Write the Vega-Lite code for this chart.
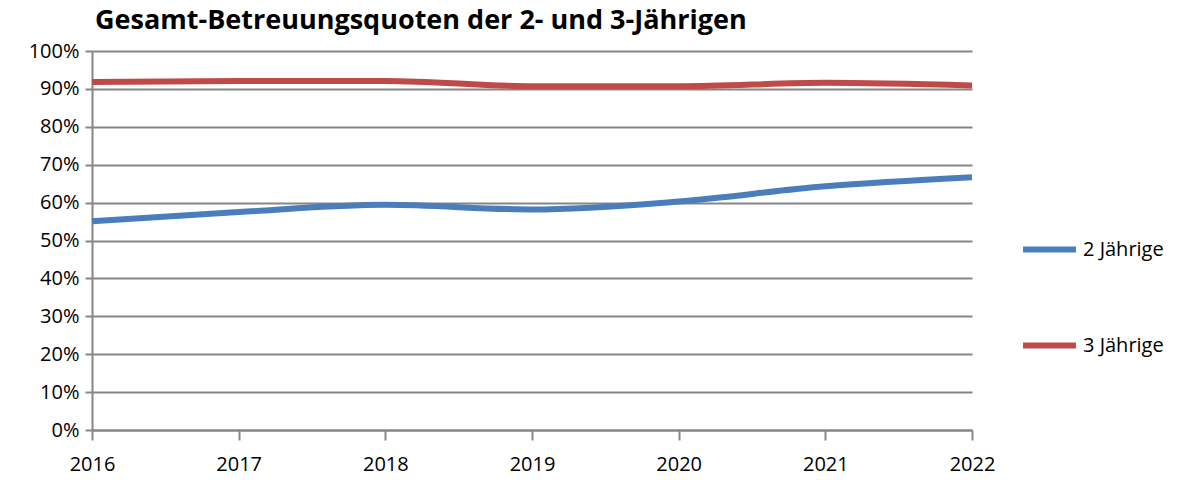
{
  "$schema": "https://vega.github.io/schema/vega-lite/v6.json",
  "autosize": "none",
  "width": 880,
  "height": 379,
  "padding": {"left": 92, "top": 51, "right": 219, "bottom": 50},
  "background": "white",
  "title": {
    "text": "Gesamt-Betreuungsquoten der 2- und 3-Jährigen",
    "anchor": "start",
    "frame": "group",
    "font": "Open Sans, sans-serif",
    "fontSize": 27,
    "fontWeight": "bold",
    "color": "#000000",
    "dx": 3,
    "offset": 6
  },
  "data": {
    "values": [
      {"year": 2016, "group": "2 Jährige", "value": 0.551},
      {"year": 2017, "group": "2 Jährige", "value": 0.575},
      {"year": 2018, "group": "2 Jährige", "value": 0.594},
      {"year": 2019, "group": "2 Jährige", "value": 0.582},
      {"year": 2020, "group": "2 Jährige", "value": 0.603},
      {"year": 2021, "group": "2 Jährige", "value": 0.643},
      {"year": 2022, "group": "2 Jährige", "value": 0.667},
      {"year": 2016, "group": "3 Jährige", "value": 0.918},
      {"year": 2017, "group": "3 Jährige", "value": 0.921},
      {"year": 2018, "group": "3 Jährige", "value": 0.921},
      {"year": 2019, "group": "3 Jährige", "value": 0.907},
      {"year": 2020, "group": "3 Jährige", "value": 0.907},
      {"year": 2021, "group": "3 Jährige", "value": 0.916},
      {"year": 2022, "group": "3 Jährige", "value": 0.909}
    ]
  },
  "mark": {"type": "line", "strokeWidth": 6, "interpolate": "monotone", "strokeCap": "butt"},
  "encoding": {
    "x": {
      "field": "year",
      "type": "quantitative",
      "scale": {"domain": [2016, 2022], "nice": false, "zero": false},
      "axis": {
        "title": null,
        "format": "d",
        "values": [2016, 2017, 2018, 2019, 2020, 2021, 2022],
        "grid": false,
        "domainColor": "#868686",
        "domainWidth": 2,
        "tickColor": "#868686",
        "tickWidth": 2,
        "tickSize": 10,
        "labelFont": "Open Sans, sans-serif",
        "labelFontSize": 20,
        "labelColor": "#000000",
        "labelPadding": 14,
        "labelFlush": false
      }
    },
    "y": {
      "field": "value",
      "type": "quantitative",
      "scale": {"domain": [0, 1], "nice": false},
      "axis": {
        "title": null,
        "format": ".0%",
        "values": [0, 0.1, 0.2, 0.3, 0.4, 0.5, 0.6, 0.7, 0.8, 0.9, 1],
        "grid": true,
        "gridColor": "#868686",
        "gridWidth": 2,
        "domainColor": "#868686",
        "domainWidth": 2,
        "tickColor": "#868686",
        "tickWidth": 2,
        "tickSize": 7,
        "labelFont": "Open Sans, sans-serif",
        "labelFontSize": 20,
        "labelColor": "#000000",
        "labelPadding": 6
      }
    },
    "color": {
      "field": "group",
      "type": "nominal",
      "scale": {"domain": ["2 Jährige", "3 Jährige"], "range": ["#4A7EBB", "#BE4B48"]},
      "legend": {
        "title": null,
        "orient": "none",
        "legendX": 928,
        "legendY": 169,
        "symbolType": "stroke",
        "symbolStrokeWidth": 6,
        "symbolSize": 2800,
        "labelFont": "Open Sans, sans-serif",
        "labelFontSize": 20,
        "labelColor": "#000000",
        "labelOffset": 4,
        "rowPadding": 54
      }
    }
  },
  "config": {"view": {"stroke": null}}
}
